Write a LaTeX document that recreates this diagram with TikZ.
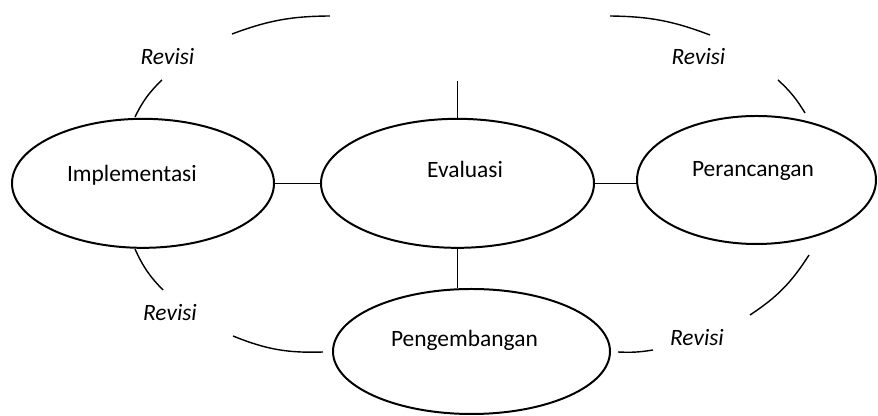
\documentclass[tikz,border=0pt]{standalone}
\usepackage{fontspec}
\setmainfont{Carlito}
\usepackage{tikz}
\usetikzlibrary{shapes.geometric}

\begin{document}
\begin{tikzpicture}[
		scale=1,
		every node/.style={font=\fontsize{20pt}{24pt}\selectfont},
		stage/.style={ellipse, draw, line width=1.7pt, inner sep=0pt, text height=0.5cm},
		revisi/.style={anchor=base, font=\fontsize{20pt}{24pt}\selectfont\itshape}
	]
  \useasboundingbox (0cm, 0cm) rectangle (26.34cm, 12.48cm);
  \node (impl) [stage, minimum width=7.86cm, minimum height=3.87cm, text width=4.56cm, align=left, text depth=0.59cm] at (4.29cm, 6.98cm) {Implementasi};
  \node (eval) [stage, minimum width=8.19cm, minimum height=3.87cm, text width=2.73cm, align=right, text depth=0.83cm] at (13.725cm, 6.98cm) {Evaluasi};
  \node (peran) [stage, minimum width=7.17cm, minimum height=3.84cm, text width=3.87cm, align=left, text depth=0.68cm] at (22.695cm, 7.08cm) {Perancangan};
  \node (peng) [stage, minimum width=8.31cm, minimum height=3.75cm, text width=4.83cm, align=left, text depth=0.77cm] at (14.145cm, 1.935cm) {Pengembangan};
  \node (rev_tl) [revisi] at (5.025cm, 10.53cm) {Revisi};
  \node (rev_tr) [revisi] at (20.955cm, 10.53cm) {Revisi};
  \node (rev_bl) [revisi] at (5.1cm, 2.85cm) {Revisi};
  \node (rev_br) [revisi] at (20.91cm, 2.1cm) {Revisi};
  \coordinate (eval_top) at (13.725cm, 10.05cm);
  \draw [line width=1pt] (impl.east) -- (eval.west);
  \draw [line width=1pt] (eval.east) -- (eval.east -| peran.west);
  \draw [line width=1pt] (eval.south) -- (eval.south |- peng.north);
  \draw [line width=1pt] (eval.north) -- (eval_top);
  \draw [line width=1.2pt] (4.05cm, 8.97cm) to [bend left=10] (4.86cm, 10.08cm);
  \draw [line width=1.2pt] (6.96cm, 11.46cm) to [bend left=10] (9.9cm, 12.0cm);
  \draw [line width=1.2pt] (18.3cm, 12.0cm) to [bend left=10] (21.3cm, 11.43cm);
  \draw [line width=1.2pt] (23.34cm, 10.08cm) to [bend left=8] (24.15cm, 9.09cm);
  \draw [line width=1.2pt] (24.27cm, 4.83cm) to [bend left=12] (22.5cm, 3.03cm);
  \draw [line width=1.2pt] (19.59cm, 1.98cm) to [bend left=6] (18.54cm, 1.92cm);
  \draw [line width=1.2pt] (9.69cm, 1.92cm) to [bend left=12] (6.99cm, 2.4cm);
  \draw [line width=1.2pt] (4.89cm, 3.78cm) to [bend left=10] (4.05cm, 5.01cm);
\end{tikzpicture}
\end{document}
